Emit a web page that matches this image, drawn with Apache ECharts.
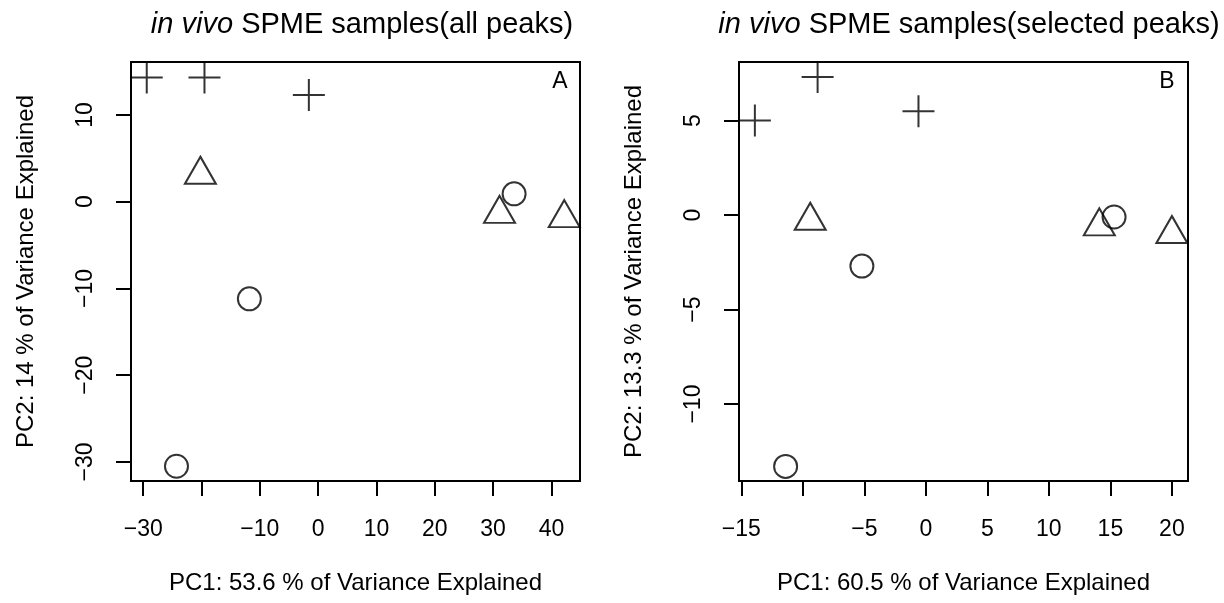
<!DOCTYPE html>
<html>
<head>
<meta charset="utf-8">
<script src="https://cdn.jsdelivr.net/npm/echarts@6/dist/echarts.min.js"></script>
<style>
  html, body { margin: 0; padding: 0; background: #fff; }
  #main { width: 1224px; height: 603px; }
</style>
</head>
<body>
<div id="main"></div>
<script>
// panel A: all peaks  [PC1, PC2]
const crossA = [[-29.4, 14.3], [-19.5, 14.3], [-1.6, 12.3]];
const triA = [[-20.2, 3.1], [31.1, -1.4], [42.2, -1.9]];
const circA = [[33.6, 0.9], [-11.8, -11.2], [-24.3, -30.5]];

// panel B: selected peaks
const crossB = [[-13.9, 5.0], [-8.8, 7.3], [-0.6, 5.5]];
const triB = [[-9.4, -0.3], [14.1, -0.6], [20.0, -1.0]];
const circB = [[15.3, -0.1], [-5.2, -2.7], [-11.4, -13.3]];

// ticks and the labels R kept (overlapping ones dropped)
const xTicksA = [-30, -20, -10, 0, 10, 20, 30, 40];
const xLabelsA = [-30, -10, 0, 10, 20, 30, 40];
const yTicksA = [-30, -20, -10, 0, 10];
const xTicksB = [-15, -10, -5, 0, 5, 10, 15, 20];
const xLabelsB = [-15, -5, 0, 5, 10, 15, 20];
const yTicksB = [-10, -5, 0, 5];

const FONT = 'Liberation Sans';
const minus = v => String(v).replace('-', '\u2212');

function xAxis(idx, min, max, ticks, labels, name) {
  return {
    type: 'value', gridIndex: idx, min: min, max: max, position: 'bottom',
    axisLine: { show: false, onZero: false },
    splitLine: { show: false },
    axisTick: { show: true, inside: false, length: 15, customValues: ticks,
      lineStyle: { color: '#000', width: 2 } },
    axisLabel: { customValues: labels, formatter: minus, margin: 37,
      color: '#000', fontFamily: FONT, fontSize: 23 },
    name: name, nameLocation: 'middle', nameGap: 90,
    nameTextStyle: { color: '#000', fontFamily: FONT, fontSize: 24 }
  };
}

function yAxis(idx, min, max, ticks, name) {
  return {
    type: 'value', gridIndex: idx, min: min, max: max, position: 'left',
    axisLine: { show: false, onZero: false },
    splitLine: { show: false },
    axisTick: { show: true, inside: false, length: 15, customValues: ticks,
      lineStyle: { color: '#000', width: 2 } },
    axisLabel: { customValues: ticks, formatter: minus, rotate: 90, margin: 34,
      color: '#000', fontFamily: FONT, fontSize: 23 },
    name: name, nameLocation: 'middle', nameGap: 93,
    nameTextStyle: { color: '#000', fontFamily: FONT, fontSize: 24 }
  };
}

const markStyle = { color: 'transparent', borderColor: '#000', borderWidth: 2 };

function marks(idx, crosses, tris, circs) {
  return [
    { type: 'scatter', xAxisIndex: idx, yAxisIndex: idx, data: crosses, clip: false,
      symbol: 'path://M16,0 L16,32 M0,16 L32,16', symbolSize: 32, itemStyle: markStyle },
    { type: 'scatter', xAxisIndex: idx, yAxisIndex: idx, data: tris, clip: false,
      symbol: 'triangle', symbolSize: [31, 27], symbolOffset: [0, -4.5], itemStyle: markStyle },
    { type: 'scatter', xAxisIndex: idx, yAxisIndex: idx, data: circs, clip: false,
      symbol: 'circle', symbolSize: 23, itemStyle: markStyle }
  ];
}

const chart = echarts.init(document.getElementById('main'));
chart.setOption({
  backgroundColor: '#fff',
  animation: false,
  title: [
    { text: '{i|in vivo} SPME samples(all peaks)', left: 357, top: 5, textAlign: 'center',
      textStyle: { color: '#000', fontFamily: FONT, fontSize: 29, fontWeight: 'normal',
        rich: { i: { fontStyle: 'italic', fontFamily: FONT, fontSize: 29, color: '#000' } } } },
    { text: '{i|in vivo} SPME samples(selected peaks)', left: 964, top: 5, textAlign: 'center',
      textStyle: { color: '#000', fontFamily: FONT, fontSize: 29, fontWeight: 'normal',
        rich: { i: { fontStyle: 'italic', fontFamily: FONT, fontSize: 29, color: '#000' } } } }
  ],
  grid: [
    { left: 131, top: 62, width: 449, height: 419, show: true,
      borderColor: '#000', borderWidth: 2, backgroundColor: 'transparent' },
    { left: 739, top: 62, width: 449, height: 419, show: true,
      borderColor: '#000', borderWidth: 2, backgroundColor: 'transparent' }
  ],
  xAxis: [
    xAxis(0, -32.1, 44.9, xTicksA, xLabelsA, 'PC1: 53.6 % of Variance Explained'),
    xAxis(1, -15.19, 21.31, xTicksB, xLabelsB, 'PC1: 60.5 % of Variance Explained')
  ],
  yAxis: [
    yAxis(0, -32.2, 16.1, yTicksA, 'PC2: 14 % of Variance Explained'),
    yAxis(1, -14.07, 8.1, yTicksB, 'PC2: 13.3 % of Variance Explained')
  ],
  graphic: [
    { type: 'text', x: 560, y: 82, style: { text: 'A', fill: '#000', font: '23px "Liberation Sans"',
      textAlign: 'center', textVerticalAlign: 'middle' } },
    { type: 'text', x: 1167, y: 82, style: { text: 'B', fill: '#000', font: '23px "Liberation Sans"',
      textAlign: 'center', textVerticalAlign: 'middle' } }
  ],
  series: marks(0, crossA, triA, circA).concat(marks(1, crossB, triB, circB))
});
</script>
</body>
</html>
